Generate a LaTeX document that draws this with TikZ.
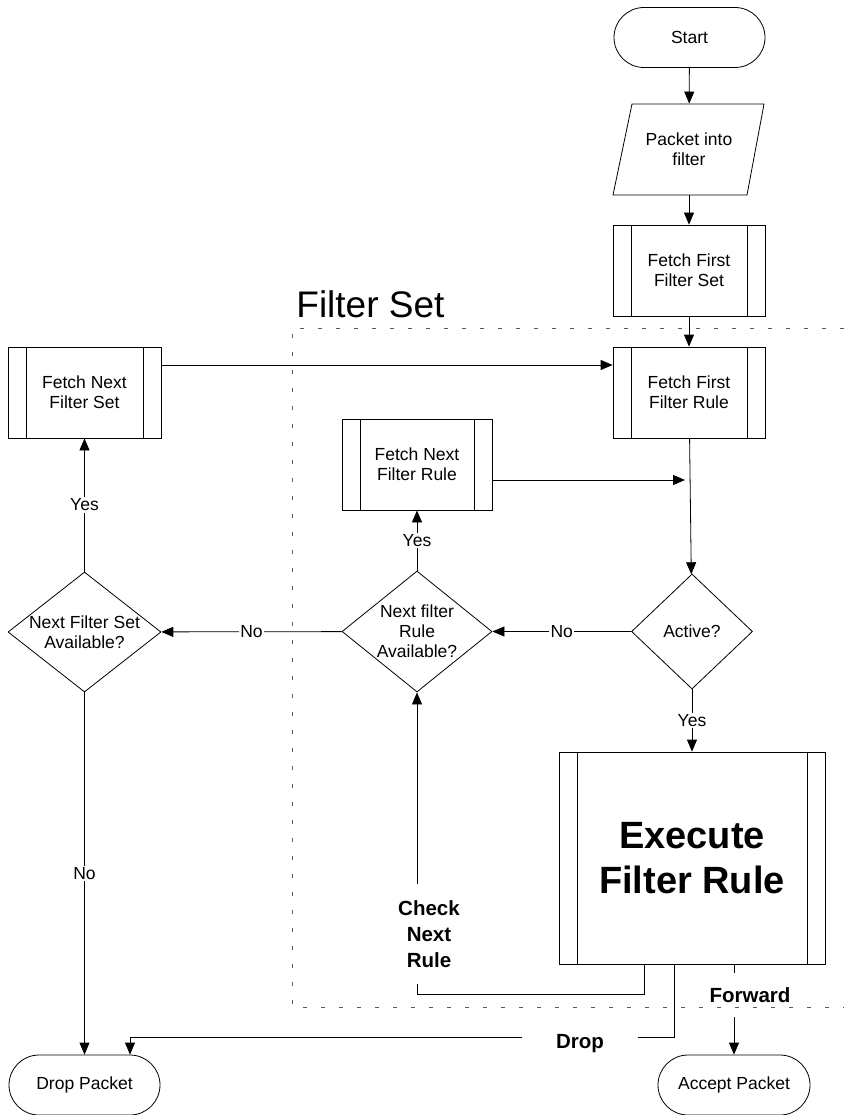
\documentclass[tikz,border=0pt]{standalone}
\usepackage{fontspec}
\setmainfont{Liberation Sans}
\usetikzlibrary{shapes.geometric,shapes.misc,arrows.meta}
\begin{document}
\begin{tikzpicture}[x=1pt,y=-1pt,line width=0.8pt,
  every node/.style={font=\fontsize{17.5}{20}\selectfont, inner sep=0pt},
  sub/.style={draw, rectangle, align=center, path picture={
      \draw[line width=0.8pt] ([xshift=18pt]path picture bounding box.north west) -- ([xshift=18pt]path picture bounding box.south west);
      \draw[line width=0.8pt] ([xshift=-18pt]path picture bounding box.north east) -- ([xshift=-18pt]path picture bounding box.south east);}},
  term/.style={draw, rounded rectangle, minimum width=151pt, minimum height=60pt},
  dec/.style={draw, diamond},
  arr/.style={-{Triangle[length=12pt,width=10pt]}},
  lbl/.style={fill=white, inner sep=1.5pt},
  blbl/.style={fill=white, font=\bfseries\fontsize{20.5}{26}\selectfont, align=center},
  fsdash/.style={draw=black!65, dash pattern=on 4pt off 14pt}]
\useasboundingbox (0,0) rectangle (844,1115);

\node[font=\fontsize{37}{40}\selectfont, anchor=base west] (fslabel) at (296,317) {Filter Set};

% nodes
\node[term] (start) at (689.5,37.5) {Start};
\node[minimum width=134pt, minimum height=91pt, align=center] (packet) at (689,149.5) {Packet into\\filter};
\draw (632,104) -- (764,104) -- (747,195) -- (613,195) -- cycle;
\node[sub, minimum width=152pt, minimum height=91pt] (fffs) at (689,270.5) {Fetch First\\Filter Set};
\node[sub, minimum width=152pt, minimum height=91pt] (fffr) at (689,392.5) {Fetch First\\Filter Rule};
\node[sub, minimum width=153pt, minimum height=91pt] (fnfs) at (84.5,392.5) {Fetch Next\\Filter Set};
\node[sub, minimum width=150pt, minimum height=91pt] (fnfr) at (417,464.5) {Fetch Next\\Filter Rule};
\node[dec, minimum width=121pt, minimum height=115pt, label={[align=center]center:Active?}] (active) at (692,631.5) {};
\node[dec, minimum width=150pt, minimum height=121pt, label={[align=center]center:Next filter\\Rule\\Available?}] (nfra) at (417,631.5) {};
\node[dec, minimum width=153pt, minimum height=120pt, label={[align=center]center:Next Filter Set\\Available?}] (nfsa) at (84.5,632) {};
\node[sub, minimum width=266pt, minimum height=212pt, font=\bfseries\fontsize{38}{45}\selectfont] (exec) at (692,858) {Execute\\Filter Rule};
\node[term] (drop) at (84.5,1085) {Drop Packet};
\node[term, minimum width=152pt] (accept) at (734,1085) {Accept Packet};

% connectors
\draw[arr] (start) -- (packet);
\draw[arr] (packet) -- (fffs);
\draw[arr] (fffs) -- (fffr);
\draw[arr] ([yshift=27.5pt]fnfs.east) -- ([yshift=27.5pt]fffr.west);
\draw[arr] (fffr) -- (active);
\coordinate (join) at (685,480);
\draw[arr] (fnfr.east |- join) -- (join);
\draw[arr] (active) -- node[lbl] {No} (nfra);
\draw[arr] (active) -- node[lbl] {Yes} (exec);
\draw[arr] (nfra) -- node[lbl] {Yes} (fnfr);
\draw[arr] (nfra) -- node[lbl] {No} (nfsa);
\draw[arr] (nfsa) -- node[lbl] {Yes} (fnfs);
\draw[arr] (nfsa) -- node[lbl] {No} (drop);

\coordinate (c1) at (644,994);
\draw[arr] ([xshift=-48pt]exec.south) -- (c1) -| (nfra.south);
\node[blbl, minimum height=100pt] (checklbl) at (429,934) {Check\\Next\\Rule};

\coordinate (d1) at (674,1037);
\coordinate (d2) at (130,1037);
\draw[arr] ([xshift=-18pt]exec.south) -- (d1) -- (d2) -- (d2 |- drop.north);
\node[blbl, minimum width=116pt] (droplbl) at (580,1044) {Drop};

\draw[arr] (exec.south -| accept.north) -- (accept.north);
\node[blbl, minimum height=44pt] (fwdlbl) at (750,995) {Forward};

% filter set frame
\draw[fsdash] (844,328) -- (292,328) -- (292,1007) -- (844,1007);
\end{tikzpicture}
\end{document}
